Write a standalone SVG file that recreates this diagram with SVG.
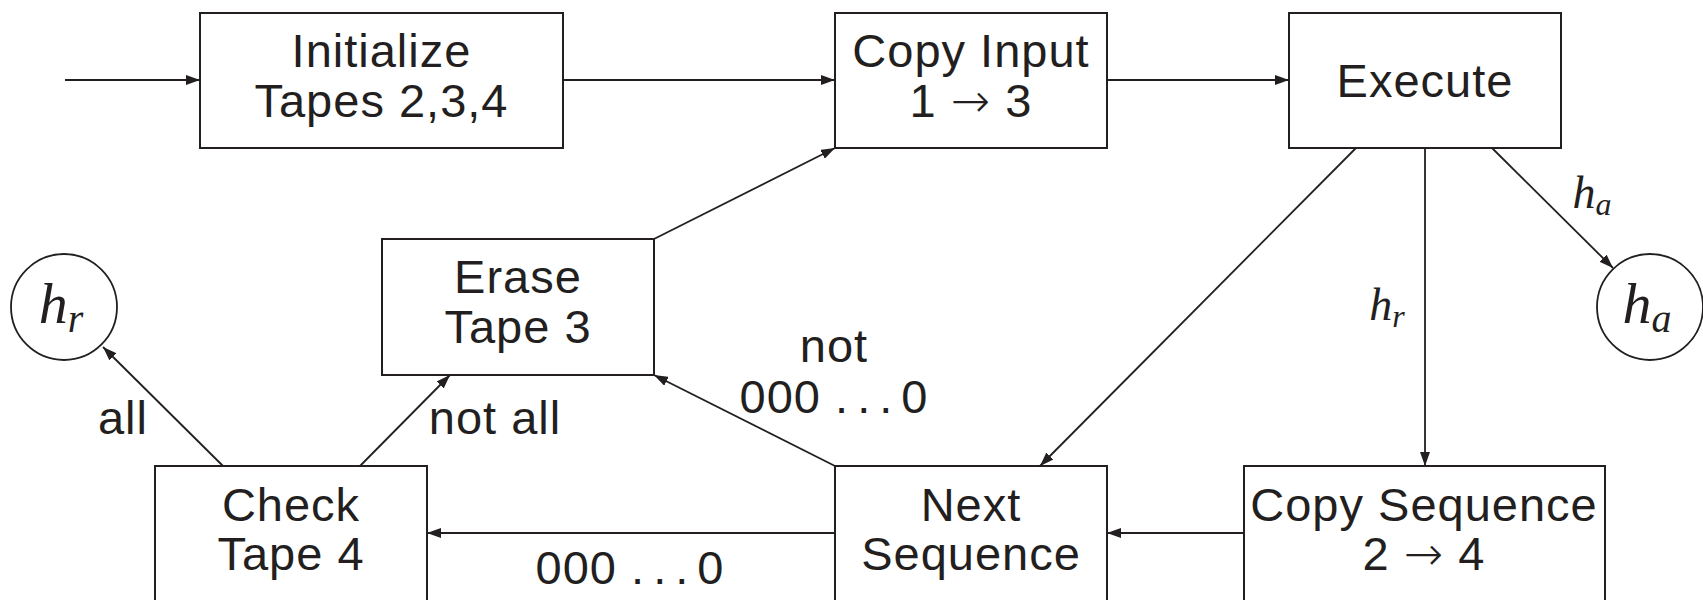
<svg xmlns="http://www.w3.org/2000/svg" width="1703" height="600" viewBox="0 0 1703 600">
<style>
.box{fill:#fff;stroke:#231f20;stroke-width:2}
.t{font-family:"Liberation Sans",Arial,sans-serif;font-size:47px;letter-spacing:1px;fill:#231f20;text-anchor:middle}
.m{font-family:"Liberation Serif","Times New Roman",serif;font-style:italic;fill:#231f20;text-anchor:middle}
.e{fill:none;stroke:#231f20;stroke-width:1.8}
.ar{font-family:"DejaVu Sans",sans-serif;font-weight:300}
</style>
<defs>
<marker id="a" viewBox="0 0 14 10" refX="14" refY="5" markerWidth="14" markerHeight="10" markerUnits="userSpaceOnUse" orient="auto">
<path d="M0,0 L14,5 L0,10 z" fill="#231f20"/>
</marker>
</defs>
<rect width="1703" height="600" fill="#fff"/>
<g id="connectors">
<line class="e" x1="65" y1="80" x2="200" y2="80" marker-end="url(#a)"/>
<line class="e" x1="563" y1="80" x2="835" y2="80" marker-end="url(#a)"/>
<line class="e" x1="1107" y1="80" x2="1289" y2="80" marker-end="url(#a)"/>
<line class="e" x1="654" y1="239" x2="835" y2="148" marker-end="url(#a)"/>
<line class="e" x1="1356" y1="148" x2="1040" y2="466" marker-end="url(#a)"/>
<line class="e" x1="1425" y1="148" x2="1425" y2="466" marker-end="url(#a)"/>
<line class="e" x1="1492" y1="148" x2="1613" y2="268" marker-end="url(#a)"/>
<line class="e" x1="1244" y1="533" x2="1107" y2="533" marker-end="url(#a)"/>
<line class="e" x1="835" y1="533" x2="427" y2="533" marker-end="url(#a)"/>
<line class="e" x1="835" y1="466" x2="654" y2="375" marker-end="url(#a)"/>
<line class="e" x1="360" y1="466" x2="450" y2="375" marker-end="url(#a)"/>
<line class="e" x1="223" y1="466" x2="103" y2="347" marker-end="url(#a)"/>
<text class="m" x="1387" y="320" font-size="46">h<tspan font-size="32" dy="7">r</tspan></text>
<text class="m" x="1592" y="208" font-size="46">h<tspan font-size="32" dy="7">a</tspan></text>
<text class="t" x="495" y="434">not all</text>
<text class="t" x="123" y="434">all</text>
<text class="t" x="834" y="362">not</text>
<text class="t" x="834" y="413">000 <tspan letter-spacing="9">...</tspan>0</text>
<text class="t" x="630" y="584">000 <tspan letter-spacing="9">...</tspan>0</text>
</g>
<g id="init">
<rect class="box" x="200" y="13" width="363" height="135"/>
<text class="t" x="381.5" y="67">Initialize</text>
<text class="t" x="381.5" y="117">Tapes 2,3,4</text>
</g>
<g id="copyinput">
<rect class="box" x="835" y="13" width="272" height="135"/>
<text class="t" x="971" y="67">Copy Input</text>
<text class="t" x="971" y="117">1 <tspan class="ar">→</tspan> 3</text>
</g>
<g id="execute">
<rect class="box" x="1289" y="13" width="272" height="135"/>
<text class="t" x="1425" y="97">Execute</text>
</g>
<g id="erase">
<rect class="box" x="382" y="239" width="272" height="136"/>
<text class="t" x="518" y="293">Erase</text>
<text class="t" x="518" y="343">Tape 3</text>
</g>
<g id="check">
<rect class="box" x="155" y="466" width="272" height="140"/>
<text class="t" x="291" y="521">Check</text>
<text class="t" x="291" y="570">Tape 4</text>
</g>
<g id="next">
<rect class="box" x="835" y="466" width="272" height="140"/>
<text class="t" x="971" y="521">Next</text>
<text class="t" x="971" y="570">Sequence</text>
</g>
<g id="copyseq">
<rect class="box" x="1244" y="466" width="361" height="140"/>
<text class="t" x="1424" y="521">Copy Sequence</text>
<text class="t" x="1424" y="570">2 <tspan class="ar">→</tspan> 4</text>
</g>
<g id="hr">
<circle cx="64" cy="307" r="53" fill="#fff" stroke="#231f20" stroke-width="1.8"/>
<text class="m" x="61" y="323" font-size="58">h<tspan font-size="40" dy="9">r</tspan></text>
</g>
<g id="ha">
<circle cx="1650" cy="307" r="53" fill="#fff" stroke="#231f20" stroke-width="1.8"/>
<text class="m" x="1647" y="323" font-size="58">h<tspan font-size="40" dy="9">a</tspan></text>
</g>
</svg>
